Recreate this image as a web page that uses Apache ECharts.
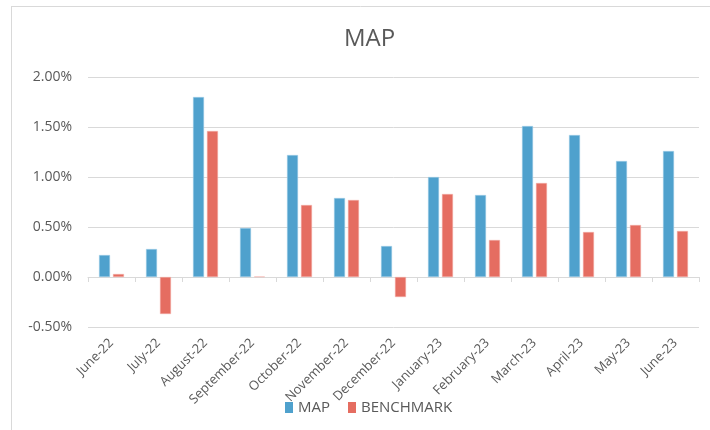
<!DOCTYPE html>
<html>
<head>
<meta charset="utf-8">
<script src="https://cdn.jsdelivr.net/npm/echarts@6/dist/echarts.min.js"></script>
<style>
html,body{margin:0;padding:0;background:#fff;}
#chart{width:710px;height:430px;}
</style>
</head>
<body>
<div id="chart"></div>
<script>
var categories = ['June-22','July-22','August-22','September-22','October-22','November-22','December-22','January-23','February-23','March-23','April-23','May-23','June-23'];
var mapValues = [0.22, 0.28, 1.80, 0.49, 1.22, 0.79, 0.31, 1.00, 0.82, 1.51, 1.42, 1.16, 1.26];
var benchmarkValues = [0.03, -0.37, 1.46, 0.005, 0.72, 0.77, -0.20, 0.83, 0.37, 0.94, 0.45, 0.52, 0.46];
var yTicks = { min: -0.5, max: 2.0, interval: 0.5 };

var chart = echarts.init(document.getElementById('chart'));
var font = "'Open Sans', 'Liberation Sans', sans-serif";
chart.setOption({
  animation: false,
  textStyle: { fontFamily: font },
  title: {
    text: 'MAP', left: 339, top: 22,
    textStyle: { fontFamily: font, fontSize: 24, fontWeight: 'normal', color: '#595959' }
  },
  graphic: [
    { type: 'line', shape: { x1: 11, y1: 6.5, x2: 710, y2: 6.5 }, style: { stroke: '#d9d9d9', lineWidth: 1 } },
    { type: 'line', shape: { x1: 11.5, y1: 6, x2: 11.5, y2: 430 }, style: { stroke: '#d9d9d9', lineWidth: 1 } }
  ],
  legend: {
    top: 395, left: 280, itemWidth: 8, itemHeight: 11, itemGap: 18,
    icon: 'rect',
    itemStyle: { borderWidth: 0 },
    textStyle: { fontFamily: font, fontSize: 15, color: '#595959' },
    data: ['MAP', 'BENCHMARK']
  },
  grid: { left: 88, right: 11, top: 77, bottom: 103, containLabel: false },
  xAxis: {
    type: 'category', data: categories,
    axisLine: { onZero: true, lineStyle: { color: '#d9d9d9' } },
    axisTick: { show: true, length: 5, lineStyle: { color: '#d9d9d9' } },
    axisLabel: { rotate: 45, interval: 0, fontSize: 13, color: '#595959', margin: 14, fontFamily: font }
  },
  yAxis: {
    type: 'value', min: yTicks.min, max: yTicks.max, interval: yTicks.interval,
    axisLine: { show: false }, axisTick: { show: false },
    splitLine: { lineStyle: { color: '#d9d9d9' } },
    axisLabel: { fontSize: 14, color: '#595959', margin: 16, fontFamily: font,
      formatter: function (v) { return v.toFixed(2) + '%'; } }
  },
  series: [
    { name: 'MAP', type: 'bar', data: mapValues, barWidth: 11, barGap: '27%',
      itemStyle: { color: '#4FA1CD', borderColor: '#a9d3ea', borderWidth: 0.5 } },
    { name: 'BENCHMARK', type: 'bar', data: benchmarkValues, barWidth: 11,
      itemStyle: { color: '#E56D61', borderColor: '#f4b3ad', borderWidth: 0.5 } }
  ]
});
</script>
</body>
</html>
